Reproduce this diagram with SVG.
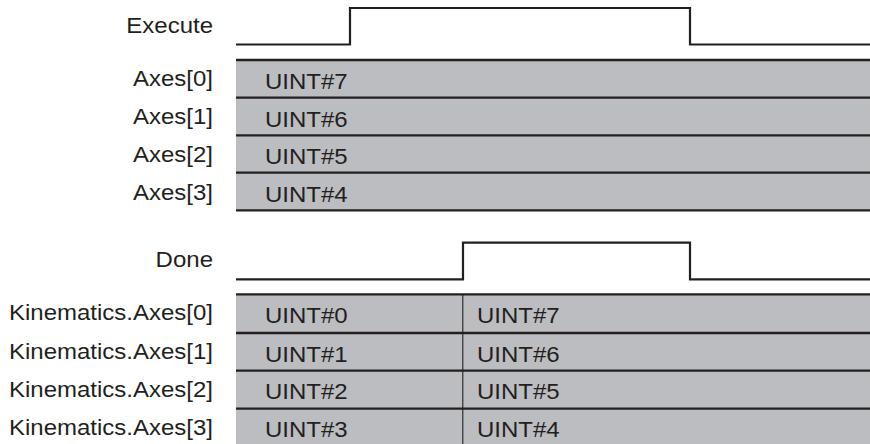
<svg xmlns="http://www.w3.org/2000/svg" width="870" height="444" viewBox="0 0 870 444">
<style>
.lbl{font-family:"Liberation Sans",Arial,sans-serif;font-size:22px;fill:#231f20;text-anchor:end}
.val{font-family:"Liberation Sans",Arial,sans-serif;font-size:22px;fill:#231f20}
.sig{fill:none;stroke:#231f20;stroke-width:2.2}
.band{fill:#bcbdc0}
.sep{stroke:#231f20;stroke-width:2.3}
.div{stroke:#231f20;stroke-width:1.1}
</style>
<rect width="870" height="444" fill="#ffffff"/>
<g id="execute">
<text class="lbl" x="213" y="33.3" textLength="86.7" lengthAdjust="spacingAndGlyphs">Execute</text>
<polyline class="sig" points="236,44.5 350,44.5 350,8 690,8 690,44.5 870,44.5"/>
</g>
<g id="axes">
<rect class="band" x="236" y="60" width="634" height="150.3"/>
<line class="sep" x1="236" y1="60" x2="870" y2="60"/>
<line class="sep" x1="236" y1="97.7" x2="870" y2="97.7"/>
<line class="sep" x1="236" y1="135.3" x2="870" y2="135.3"/>
<line class="sep" x1="236" y1="172.7" x2="870" y2="172.7"/>
<line class="sep" x1="236" y1="210.3" x2="870" y2="210.3"/>
<text class="lbl" x="213" y="86.2" textLength="80" lengthAdjust="spacingAndGlyphs">Axes[0]</text>
<text class="lbl" x="213" y="124.4" textLength="80" lengthAdjust="spacingAndGlyphs">Axes[1]</text>
<text class="lbl" x="213" y="162.3" textLength="80" lengthAdjust="spacingAndGlyphs">Axes[2]</text>
<text class="lbl" x="213" y="199.7" textLength="80" lengthAdjust="spacingAndGlyphs">Axes[3]</text>
<text class="val" x="265" y="89.3" textLength="82.7" lengthAdjust="spacingAndGlyphs">UINT#7</text>
<text class="val" x="265" y="127" textLength="82.7" lengthAdjust="spacingAndGlyphs">UINT#6</text>
<text class="val" x="265" y="164.4" textLength="82.7" lengthAdjust="spacingAndGlyphs">UINT#5</text>
<text class="val" x="265" y="202" textLength="82.7" lengthAdjust="spacingAndGlyphs">UINT#4</text>
</g>
<g id="done">
<text class="lbl" x="213" y="266.7" textLength="57.4" lengthAdjust="spacingAndGlyphs">Done</text>
<polyline class="sig" points="236,279.3 463,279.3 463,242.7 690,242.7 690,279.3 870,279.3"/>
</g>
<g id="kinematics">
<rect class="band" x="236" y="294.3" width="634" height="150"/>
<line class="sep" x1="236" y1="294.3" x2="870" y2="294.3"/>
<line class="sep" x1="236" y1="333" x2="870" y2="333"/>
<line class="sep" x1="236" y1="370.7" x2="870" y2="370.7"/>
<line class="sep" x1="236" y1="408.7" x2="870" y2="408.7"/>
<line class="div" x1="462.8" y1="294.3" x2="462.8" y2="444"/>
<text class="lbl" x="213" y="320.2" textLength="204" lengthAdjust="spacingAndGlyphs">Kinematics.Axes[0]</text>
<text class="lbl" x="213" y="359" textLength="204" lengthAdjust="spacingAndGlyphs">Kinematics.Axes[1]</text>
<text class="lbl" x="213" y="396.8" textLength="204" lengthAdjust="spacingAndGlyphs">Kinematics.Axes[2]</text>
<text class="lbl" x="213" y="435" textLength="204" lengthAdjust="spacingAndGlyphs">Kinematics.Axes[3]</text>
<text class="val" x="265" y="322.7" textLength="82.7" lengthAdjust="spacingAndGlyphs">UINT#0</text>
<text class="val" x="265" y="361.6" textLength="82.7" lengthAdjust="spacingAndGlyphs">UINT#1</text>
<text class="val" x="265" y="399.3" textLength="82.7" lengthAdjust="spacingAndGlyphs">UINT#2</text>
<text class="val" x="265" y="437.3" textLength="82.7" lengthAdjust="spacingAndGlyphs">UINT#3</text>
<text class="val" x="477" y="322.7" textLength="82.7" lengthAdjust="spacingAndGlyphs">UINT#7</text>
<text class="val" x="477" y="361.6" textLength="82.7" lengthAdjust="spacingAndGlyphs">UINT#6</text>
<text class="val" x="477" y="399.3" textLength="82.7" lengthAdjust="spacingAndGlyphs">UINT#5</text>
<text class="val" x="477" y="437.3" textLength="82.7" lengthAdjust="spacingAndGlyphs">UINT#4</text>
</g>
<g id="connectors"></g>
</svg>
